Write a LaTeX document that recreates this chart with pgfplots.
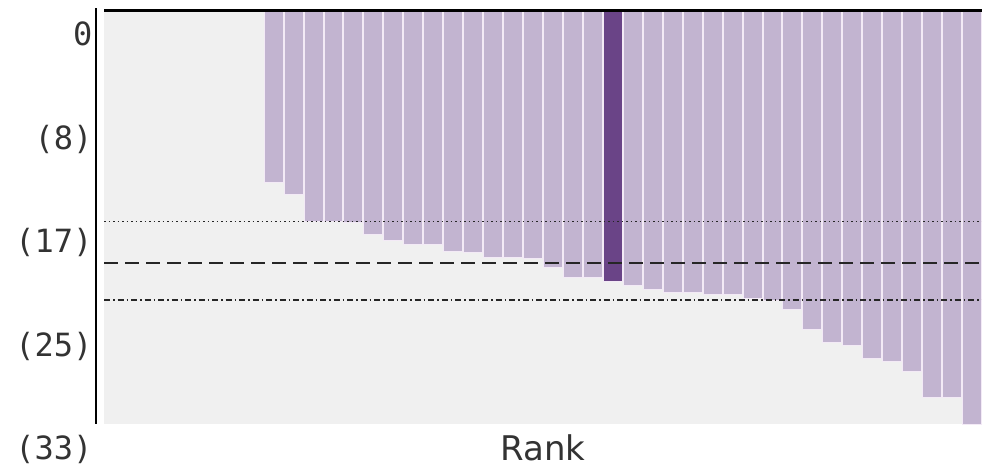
\documentclass[border=0pt]{standalone}
\usepackage{fontspec}
\setmainfont{DejaVu Sans}
\newfontfamily\tickfont{DejaVu Sans Mono}
\usepackage{pgfplots}
\pgfplotsset{compat=1.18}
\usepackage{pgfplotstable}
\definecolor{barlight}{RGB}{194,180,208}
\definecolor{bardark}{RGB}{106,68,135}
\definecolor{bggray}{RGB}{240,240,240}
\definecolor{gapcol}{RGB}{243,234,246}
\definecolor{txt}{RGB}{51,51,51}
\pgfplotstableread{
x v
8 13.77
9 14.69
10 16.82
11 16.82
12 16.95
13 17.86
14 18.41
15 18.68
16 18.68
17 19.21
18 19.35
19 19.71
20 19.71
21 19.83
22 20.51
23 21.31
24 21.31
26 21.98
27 22.24
28 22.48
29 22.48
30 22.69
31 22.69
32 22.98
33 23.12
34 23.84
35 25.48
36 26.52
37 26.76
38 27.80
39 28.00
40 28.80
41 30.85
42 30.85
43 33.00
}\lightdata
\pgfplotstableread{
x v
25 21.68
}\darkdata
\begin{document}
\begin{tikzpicture}
\path[use as bounding box] (0,0) rectangle (982pt,474pt);
\begin{axis}[
  at={(104pt,50pt)}, anchor=south west,
  scale only axis, width=878pt, height=414pt,
  xmin=-0.5, xmax=43.5, ymin=0, ymax=33,
  y dir=reverse,
  axis line style={draw=none},
  axis background/.style={fill=bggray},
  xtick=\empty,
  ytick={0,8.25,16.5,24.75,33},
  yticklabels={0,(8),(17),(25),(33)},
  major tick length=0pt,
  yticklabel style={font=\tickfont\fontsize{32}{38}\selectfont, text=txt, anchor=north east, xshift=-8pt, yshift=-8pt},
  xlabel={Rank},
  xlabel style={font=\fontsize{34}{40}\selectfont, text=txt, at={(axis description cs:0.5,0)}, anchor=north, yshift=-7pt},
  clip=false,
]
\addplot[ybar, bar shift=0pt, bar width=0.95, fill=barlight, draw=gapcol, line width=1pt] table[x=x,y=v] {\lightdata};
\addplot[ybar, bar shift=0pt, bar width=0.95, fill=bardark, draw=gapcol, line width=1pt] table[x=x,y=v] {\darkdata};
\addplot[color=black!85, line width=1.4pt, dash pattern=on 1.5pt off 3pt] coordinates {(-0.5,16.87) (43.5,16.87)};
\addplot[color=black!85, line width=1.9pt, dash pattern=on 14pt off 7pt] coordinates {(-0.5,20.2) (43.5,20.2)};
\addplot[color=black!85, line width=1.4pt, dash pattern=on 6pt off 3pt on 1.5pt off 3pt] coordinates {(-0.5,23.1) (43.5,23.1)};
\draw[line width=3pt, black] (rel axis cs:0,1) -- (rel axis cs:1,1);
\draw[line width=2.5pt, black] ([xshift=-8pt,yshift=2pt]rel axis cs:0,1) -- ([xshift=-8pt]rel axis cs:0,0);
\end{axis}
\end{tikzpicture}
\end{document}
